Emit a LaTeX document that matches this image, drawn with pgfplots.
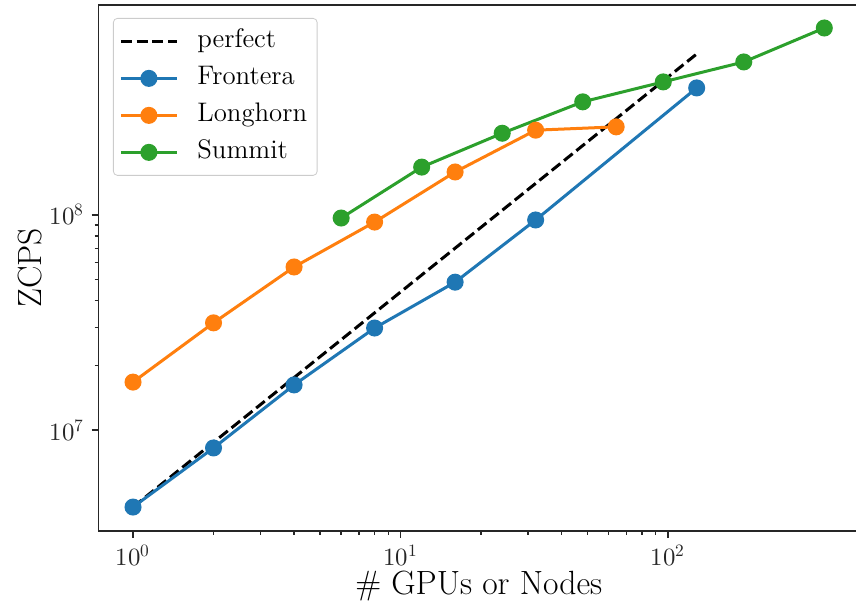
\documentclass[border=0pt]{standalone}
\usepackage{fontspec}
\usepackage{unicode-math}
\usepackage{pgfplots}
\pgfplotsset{compat=1.18}
\definecolor{tabblue}{HTML}{1F77B4}
\definecolor{taborange}{HTML}{FF7F0E}
\definecolor{tabgreen}{HTML}{2CA02C}
\definecolor{spine}{HTML}{262626}

\begin{document}
\begin{tikzpicture}
% the reference is cropped: no title, right spine just outside
\useasboundingbox (-49.25pt,-37pt) rectangle (378.75pt,265.5pt);
\clip (-49.25pt,-37pt) rectangle (378.75pt,265.5pt);
\begin{axis}[
  scale only axis,
  width=380.25pt, height=263pt,
  xmode=log, ymode=log,
  xmin=0.743, xmax=517.6,
  ymin=3.39e6, ymax=9.48e8,
  xtick={1,10,100}, ytick={1e7,1e8},
  xticklabels={$10^{0}$,$10^{1}$,$10^{2}$},
  yticklabels={$10^{7}$,$10^{8}$},
  tick pos=left, tick align=outside,
  major tick length=3.5pt, minor tick length=2pt,
  every tick/.style={spine, line width=0.7pt},
  axis line style={spine, line width=0.8pt},
  tick label style={font=\fontsize{12.4}{14}\selectfont, color=spine},
  xlabel={\# GPUs or Nodes},
  ylabel={ZCPS},
  every axis x label/.style={at={(rel axis cs:0.5,0)}, anchor=base, yshift=-32pt,
    font=\fontsize{16.8}{20}\selectfont},
  every axis y label/.style={at={(rel axis cs:0,0.5)}, xshift=-34.25pt, rotate=90, anchor=center,
    font=\fontsize{16.8}{20}\selectfont},
  legend image code/.code={\draw[mark repeat=2,mark phase=2,#1] plot coordinates {(0pt,0pt) (14pt,0pt) (28pt,0pt)};},
  legend style={at={(0,1)}, anchor=north west, xshift=7.25pt, yshift=-6.5pt,
    draw=black!20, rounded corners=2pt, fill=white,
    row sep=0pt, column sep=7.5pt, inner xsep=3pt, inner ysep=2.25pt,
    nodes={font=\fontsize{13.4}{15}\selectfont, text height=9pt, text depth=2.5pt,
      inner xsep=2pt, inner ysep=3.5pt}},
  legend cell align=left,
]
\addplot[black, line width=1.5pt, dash pattern=on 5.5pt off 2.4pt] coordinates {
  (1,4.38e6) (128,5.61e8)
};
\addlegendentry{perfect}
\addplot[tabblue, line width=1.5pt, mark=*, mark size=3.5pt, mark options={solid}] coordinates {
  (1,4.38e6) (2,8.25e6) (4,1.62e7) (8,2.98e7) (16,4.87e7) (32,9.48e7) (128,3.90e8)
};
\addlegendentry{Frontera}
\addplot[taborange, line width=1.5pt, mark=*, mark size=3.5pt] coordinates {
  (1,1.67e7) (2,3.15e7) (4,5.73e7) (8,9.27e7) (16,1.585e8) (32,2.48e8) (64,2.57e8)
};
\addlegendentry{Longhorn}
\addplot[tabgreen, line width=1.5pt, mark=*, mark size=3.5pt] coordinates {
  (6,9.68e7) (12,1.67e8) (24,2.40e8) (48,3.36e8) (96,4.16e8) (192,5.15e8) (384,7.41e8)
};
\addlegendentry{Summit}
\end{axis}
\end{tikzpicture}
\end{document}
